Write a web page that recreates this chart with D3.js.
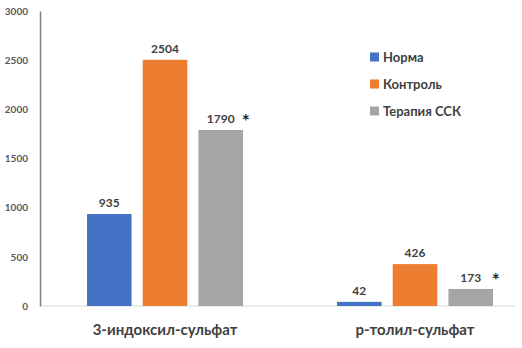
<!DOCTYPE html>
<html>
<head>
<meta charset="utf-8">
<script src="https://cdn.jsdelivr.net/npm/d3@7"></script>
<style>
  body { margin: 0; background: #fff; }
  text { font-family: Lato, "Open Sans", sans-serif; font-weight: bold; }
</style>
</head>
<body>
<div id="chart"></div>
<script>
// ---------------------------------------
// data
const categories = ["3-индоксил-сульфат", "p-толил-сульфат"];
const seriesNames = ["Норма", "Контроль", "Терапия ССК"];
const seriesColors = ["#4472C4", "#ED7D31", "#A5A5A5"];
const normaValues = [935, 42];
const kontrolValues = [2504, 426];
const terapiyaValues = [1790, 173];
const starred = [false, false, true]; // asterisk after the therapy values
const yTicks = [0, 500, 1000, 1500, 2000, 2500, 3000];

const series = [normaValues, kontrolValues, terapiyaValues];

// ---------------------------------------
// svg params
const width = 522, height = 348;
const svg = d3.select("#chart")
    .append("svg")
    .attr("width", width)
    .attr("height", height);

const y = d3.scaleLinear()
    .domain([0, 3000])
    .range([306, 11]);

// groups are 250px apart, the right one runs past the edge
const x0 = d3.scaleBand()
    .domain(categories)
    .range([40, 540])
    .paddingInner(0)
    .paddingOuter(0);

const x1 = d3.scaleBand()
    .domain(seriesNames)
    .range([47, x0.bandwidth() - 47])
    .paddingInner(0.2);

// ---------------------------------------
// y axis
const yAxis = d3.axisLeft(y)
    .tickValues(yTicks)
    .tickFormat(d3.format("d"))
    .tickSize(0)
    .tickPadding(12);

const gy = svg.append("g")
    .attr("transform", "translate(40,0)")
    .call(yAxis);
gy.select(".domain").attr("stroke", "#7f7f7f").attr("stroke-width", 1.5);
gy.selectAll("text")
    .attr("fill", "#595959")
    .style("font-size", "10px");

// baseline
svg.append("line")
    .attr("x1", 41).attr("x2", 515)
    .attr("y1", y(0)).attr("y2", y(0))
    .attr("stroke", "#d9d9d9")
    .attr("stroke-width", 1);

// ---------------------------------------
// bars
const groups = svg.selectAll(".grp")
    .data(categories)
    .enter()
    .append("g")
    .attr("class", "grp")
    .attr("transform", d => "translate(" + x0(d) + ",0)");

groups.each(function(cat, ci) {
  const g = d3.select(this);
  seriesNames.forEach((name, si) => {
    const v = series[si][ci];
    g.append("rect")
        .attr("x", x1(name))
        .attr("y", y(v))
        .attr("width", x1.bandwidth())
        .attr("height", y(0) - y(v))
        .attr("fill", seriesColors[si]);
    g.append("text")
        .attr("x", x1(name) + x1.bandwidth() / 2)
        .attr("y", y(v) - 7)
        .attr("text-anchor", "middle")
        .attr("fill", "#404040")
        .style("font-size", "12px")
        .text(v);
    if (starred[si]) {
      g.append("text")
          .attr("x", x1(name) + x1.bandwidth() / 2 + 25)
          .attr("y", y(v) - 2)
          .attr("text-anchor", "middle")
          .attr("fill", "#262626")
          .style("font-size", "19px")
          .text("*");
    }
  });
  // category label
  g.append("text")
      .attr("x", x1(seriesNames[1]) + x1.bandwidth() / 2)
      .attr("y", 335)
      .attr("text-anchor", "middle")
      .attr("fill", "#404040")
      .style("font-size", "15px")
      .text(cat);
});

// ---------------------------------------
// legend
const legend = svg.selectAll(".leg")
    .data(seriesNames)
    .enter()
    .append("g")
    .attr("class", "leg")
    .attr("transform", (d, i) => "translate(370," + (57 + i * 27) + ")");

legend.append("rect")
    .attr("x", 0).attr("y", -4.5)
    .attr("width", 9).attr("height", 9)
    .attr("fill", (d, i) => seriesColors[i]);

legend.append("text")
    .attr("x", 13)
    .attr("y", 4.5)
    .attr("fill", "#404040")
    .style("font-size", "13px")
    .text(d => d);
</script>
</body>
</html>
